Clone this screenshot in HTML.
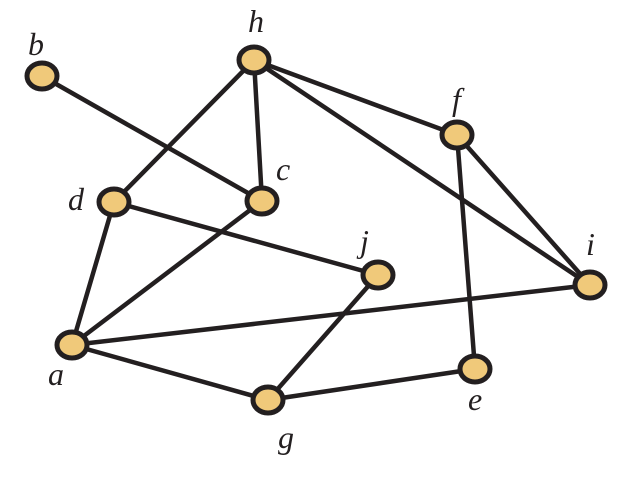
<!DOCTYPE html>
<html><head><style>html,body{margin:0;padding:0;background:#fff;}</style></head><body>
<svg width="634" height="472" viewBox="0 0 634 472" xmlns="http://www.w3.org/2000/svg">
<g stroke="#231f20" stroke-width="4.5" stroke-linecap="round">
<line x1="42" y1="76" x2="262" y2="201"/>
<line x1="254" y1="60" x2="114" y2="202"/>
<line x1="254" y1="60" x2="262" y2="201"/>
<line x1="254" y1="60" x2="457" y2="135"/>
<line x1="254" y1="60" x2="590" y2="285"/>
<line x1="457" y1="135" x2="590" y2="285"/>
<line x1="457" y1="135" x2="475" y2="369"/>
<line x1="114" y1="202" x2="72" y2="345"/>
<line x1="114" y1="202" x2="378" y2="275"/>
<line x1="262" y1="201" x2="72" y2="345"/>
<line x1="72" y1="345" x2="590" y2="285"/>
<line x1="72" y1="345" x2="268" y2="400"/>
<line x1="268" y1="400" x2="378" y2="275"/>
<line x1="268" y1="400" x2="475" y2="369"/>
</g>
<g fill="#f0c97a" stroke="#231f20" stroke-width="5">
<ellipse cx="42" cy="76" rx="15" ry="13"/>
<ellipse cx="254" cy="60" rx="15" ry="13"/>
<ellipse cx="457" cy="135" rx="15" ry="13"/>
<ellipse cx="262" cy="201" rx="15" ry="13"/>
<ellipse cx="114" cy="202" rx="15" ry="13"/>
<ellipse cx="378" cy="275" rx="15" ry="13"/>
<ellipse cx="590" cy="285" rx="15" ry="13"/>
<ellipse cx="72" cy="345" rx="15" ry="13"/>
<ellipse cx="475" cy="369" rx="15" ry="13"/>
<ellipse cx="268" cy="400" rx="15" ry="13"/>
</g>
<g font-family="Liberation Serif, serif" font-style="italic" font-size="32" fill="#231f20">
<text x="28" y="55">b</text>
<text x="248" y="32">h</text>
<text x="452" y="110">f</text>
<text x="276" y="180">c</text>
<text x="68" y="210">d</text>
<text x="360" y="252">j</text>
<text x="586" y="255">i</text>
<text x="48" y="385">a</text>
<text x="468" y="410">e</text>
<text x="278" y="448">g</text>
</g>
</svg>
</body></html>
